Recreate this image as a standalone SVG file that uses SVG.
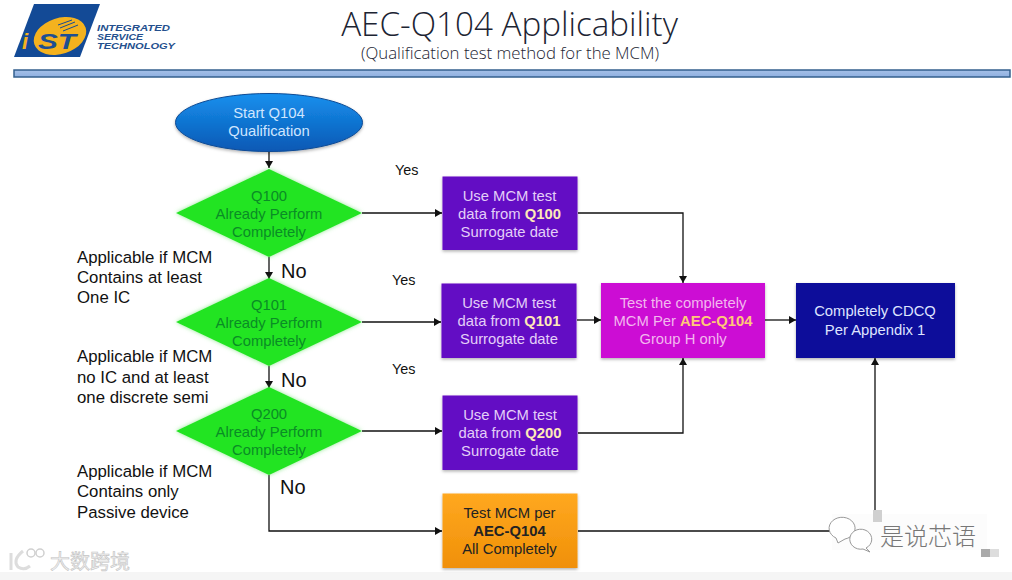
<svg xmlns="http://www.w3.org/2000/svg" width="1012" height="580" viewBox="0 0 1012 580">
<style>
text{font-family:"Liberation Sans",Arial,sans-serif}
.t{text-anchor:middle;font-size:14.800px}
.w{fill:#e4cff8}
.g{fill:#0a8c26}
.y{font-weight:bold;fill:#ffe9b8}
.l{font-size:16.800px;fill:#111}
.yes{font-size:14.400px;fill:#111}
.no{font-size:20px;fill:#111}
.c{fill:none;stroke:#111;stroke-width:1.300;marker-end:url(#a)}
.logo{font-size:9px;font-weight:bold;font-style:italic;fill:#24508e}
</style>
<defs>
<marker id="a" markerUnits="userSpaceOnUse" markerWidth="8" markerHeight="9" refX="7" refY="4.500" orient="auto"><path d="M0 .5L7 4.500L0 8.500Z" fill="#111"/></marker>
<linearGradient id="bar" x1="0" y1="0" x2="0" y2="1"><stop offset="0" stop-color="#a5c0e8"/><stop offset="1" stop-color="#8fb0e0"/></linearGradient>
<linearGradient id="blue" x1="0" y1="0" x2="0" y2="1"><stop offset="0" stop-color="#1690ee"/><stop offset="1" stop-color="#0a58b4"/></linearGradient>
<linearGradient id="or" x1="0" y1="0" x2="0" y2="1"><stop offset="0" stop-color="#ffa820"/><stop offset="1" stop-color="#f09008"/></linearGradient>
<filter id="s" x="-10%" y="-10%" width="120%" height="125%"><feDropShadow dx="0" dy="1.500" stdDeviation="1.500" flood-color="#000" flood-opacity=".3"/></filter>
<filter id="gl" x="-10%" y="-10%" width="120%" height="120%"><feDropShadow dx="0" dy="0" stdDeviation="2" flood-color="#60e060" flood-opacity=".7"/></filter>
</defs>
<rect width="1012" height="580" fill="#fff"/>
<rect y="572" width="1012" height="8" fill="#f5f5f5"/>
<g id="logo">
<path d="M34 4H100L80 57H14Z" fill="#134a96"/>
<ellipse cx="60" cy="36" rx="27" ry="18" fill="#f4b21e" transform="rotate(-18 60 36)"/>
<path d="M58 25L72 20M60 28L75 22M63 31L78 25" stroke="#134a96" stroke-width="1" fill="none"/>
<text x="22" y="49" font-size="22" font-weight="bold" font-style="italic" fill="#f4b21e" textLength="22">i</text>
<text x="38" y="49" font-size="22" font-weight="bold" font-style="italic" fill="#1d4f92" textLength="38" lengthAdjust="spacingAndGlyphs">ST</text>
<text class="logo" x="97" y="31" textLength="73" lengthAdjust="spacingAndGlyphs">INTEGRATED</text>
<text class="logo" x="97" y="40" textLength="46" lengthAdjust="spacingAndGlyphs">SERVICE</text>
<text class="logo" x="97" y="48.500" textLength="78" lengthAdjust="spacingAndGlyphs">TECHNOLOGY</text>
</g>
<g id="header">
<text x="509.500" y="36" text-anchor="middle" font-size="33.200" font-weight="300" fill="#1c2433" style="font-family:'Open Sans',sans-serif">AEC-Q104 Applicability</text>
<text x="510" y="59" text-anchor="middle" font-size="16.800" font-weight="300" fill="#1c2433" style="font-family:'Open Sans',sans-serif">(Qualification test method for the MCM)</text>
<rect x="14" y="70" width="996" height="7" fill="url(#bar)" stroke="#34608e" stroke-width="1.500"/>
</g>
<g id="connectors">
<path class="c" d="M269 152V168"/>
<path class="c" d="M269 257V279"/>
<path class="c" d="M269 366V388"/>
<path class="c" d="M362 213H442"/>
<path class="c" d="M362 322H441"/>
<path class="c" d="M362 431H442"/>
<path class="c" d="M578 213H683V283"/>
<path class="c" d="M577 320H601"/>
<path class="c" d="M578 433H683V358"/>
<path class="c" d="M765 320H796"/>
<path class="c" d="M269 475V531H442"/>
<path class="c" d="M578 531H875V358"/>
</g>
<g id="start"><ellipse cx="269" cy="122.500" rx="93.500" ry="29" fill="url(#blue)" stroke="#0a4a94" filter="url(#s)"/>
<text class="t" x="269" y="118" fill="#cfe6ff">Start Q104</text><text class="t" x="269" y="136" fill="#cfe6ff">Qualification</text></g>
<g id="q100"><path d="M269 169L362 213L269 257L176 213Z" fill="#22e422" filter="url(#gl)"/>
<text class="t g" x="269" y="201">Q100</text><text class="t g" x="269" y="219">Already Perform</text><text class="t g" x="269" y="237">Completely</text></g>
<g id="q101"><path d="M269 278L362 322L269 366L176 322Z" fill="#22e422" filter="url(#gl)"/>
<text class="t g" x="269" y="310">Q101</text><text class="t g" x="269" y="328">Already Perform</text><text class="t g" x="269" y="346">Completely</text></g>
<g id="q200"><path d="M269 387L362 431L269 475L176 431Z" fill="#22e422" filter="url(#gl)"/>
<text class="t g" x="269" y="419">Q200</text><text class="t g" x="269" y="437">Already Perform</text><text class="t g" x="269" y="455">Completely</text></g>
<g id="use-q100"><rect x="442.500" y="176.500" width="135" height="73.500" fill="#6408c4" filter="url(#s)"/>
<text class="t w" x="509.500" y="201">Use MCM test</text><text class="t w" x="509.500" y="219">data from <tspan class="y">Q100</tspan></text><text class="t w" x="509.500" y="237">Surrogate date</text></g>
<g id="use-q101"><rect x="441.500" y="283.500" width="135" height="74.500" fill="#6408c4" filter="url(#s)"/>
<text class="t w" x="509" y="308">Use MCM test</text><text class="t w" x="509" y="326">data from <tspan class="y">Q101</tspan></text><text class="t w" x="509" y="344">Surrogate date</text></g>
<g id="use-q200"><rect x="442.500" y="395.500" width="135" height="74.500" fill="#6408c4" filter="url(#s)"/>
<text class="t w" x="510" y="420">Use MCM test</text><text class="t w" x="510" y="438">data from <tspan class="y">Q200</tspan></text><text class="t w" x="510" y="456">Surrogate date</text></g>
<g id="test-h"><rect x="601" y="283" width="164" height="75" fill="#cc0cd4" filter="url(#s)"/>
<text class="t" fill="#f2b8ee" x="683" y="308">Test the completely</text><text class="t" fill="#f2b8ee" x="683" y="325.500">MCM Per <tspan font-weight="bold" style="fill:#ffc878">AEC-Q104</tspan></text><text class="t" fill="#f2b8ee" x="683" y="344">Group H only</text></g>
<g id="cdcq"><rect x="796" y="283" width="159" height="75" fill="#08089a" filter="url(#s)"/>
<text class="t" fill="#dfe4ff" x="875" y="316">Completely CDCQ</text><text class="t" fill="#dfe4ff" x="875" y="335">Per Appendix 1</text></g>
<g id="test-all"><rect x="442.500" y="493.500" width="135" height="74.500" fill="url(#or)" filter="url(#s)"/>
<text class="t" fill="#222" x="509.500" y="518">Test MCM per</text><text class="t" fill="#222" x="509.500" y="536" font-weight="bold">AEC-Q104</text><text class="t" fill="#222" x="509.500" y="554">All Completely</text></g>
<g id="labels">
<text class="yes" x="395" y="175">Yes</text><text class="yes" x="392" y="285">Yes</text><text class="yes" x="392" y="374">Yes</text>
<text class="no" x="281" y="278">No</text><text class="no" x="281" y="387">No</text><text class="no" x="280" y="494">No</text>
<text class="l" x="77" y="263">Applicable if MCM</text><text class="l" x="77" y="283">Contains at least</text><text class="l" x="77" y="303">One IC</text>
<text class="l" x="77" y="362">Applicable if MCM</text><text class="l" x="77" y="383">no IC and at least</text><text class="l" x="77" y="403">one discrete semi</text>
<text class="l" x="77" y="477">Applicable if MCM</text><text class="l" x="77" y="497">Contains only</text><text class="l" x="77" y="518">Passive device</text>
</g>
<g id="watermarks">
<rect x="832" y="514" width="155" height="36" fill="#fcfcfc"/>
<rect x="873" y="510" width="9" height="12" fill="#d0d0d0"/>
<path d="M836 538L838 543L845 539A13 11 0 1 0 836 538Z" fill="#fff" stroke="#999"/>
<path d="M866 548L870 552L863 549A11 10 0 1 1 866 548Z" fill="#fff" stroke="#999"/>
<text x="880" y="545" font-size="24" font-weight="300" fill="#777" style="font-family:'Noto Sans CJK SC',sans-serif">是说芯语</text>
<rect x="981" y="549" width="9" height="8" fill="#aaa"/><rect x="990" y="549" width="9" height="8" fill="#ddd"/>
<path d="M11 553V570M23 551Q12 560 18 567Q24 571 30 566" fill="none" stroke="#ddd" stroke-width="3"/>
<circle cx="31" cy="553" r="4" fill="none" stroke="#d0d0d0" stroke-width="1.500"/><circle cx="40" cy="553" r="4" fill="none" stroke="#d0d0d0" stroke-width="1.500"/>
<text x="50" y="569" font-size="20" fill="#f0f0f0" stroke="#c4c4c4" stroke-width=".6" style="font-family:'Noto Sans CJK SC',sans-serif">大数跨境</text>
</g>
</svg>
